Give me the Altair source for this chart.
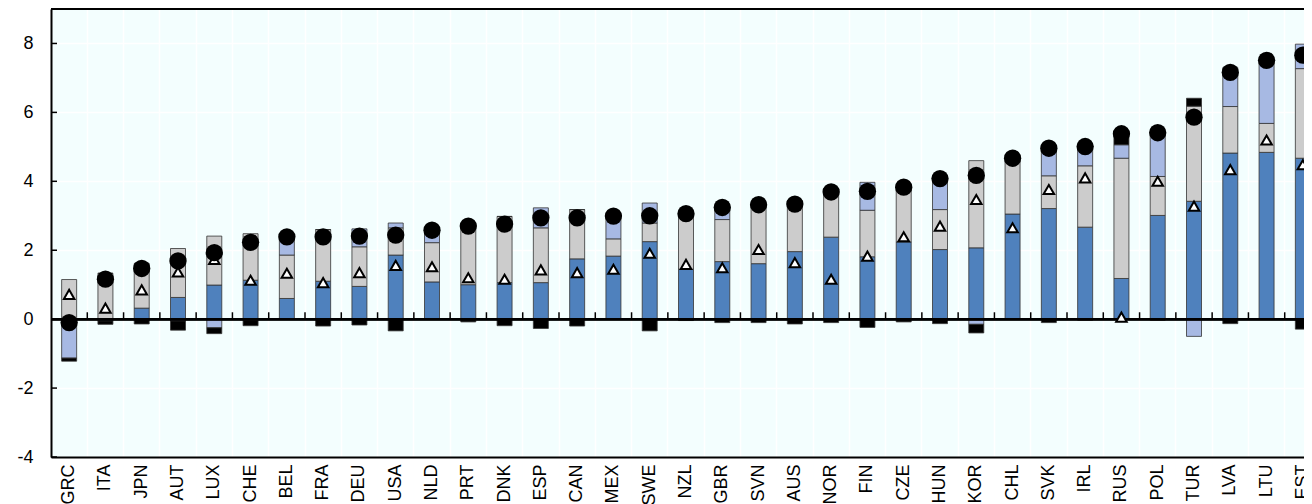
import altair as alt
import pandas as pd

countries = ["GRC", "ITA", "JPN", "AUT", "LUX", "CHE", "BEL", "FRA", "DEU", "USA",
             "NLD", "PRT", "DNK", "ESP", "CAN", "MEX", "SWE", "NZL", "GBR", "SVN",
             "AUS", "NOR", "FIN", "CZE", "HUN", "KOR", "CHL", "SVK", "IRL", "RUS",
             "POL", "TUR", "LVA", "LTU", "EST"]

dark_blue = [0.00, -0.05, 0.32, 0.63, 0.99, 1.13, 0.60, 1.10, 0.95, 1.86,
             1.08, 1.00, 1.06, 1.06, 1.75, 1.83, 2.25, 1.45, 1.67, 1.61,
             1.96, 2.38, 1.81, 2.24, 2.02, 2.07, 3.05, 3.21, 2.67, 1.18,
             3.01, 3.42, 4.82, 4.84, 4.67]
grey = [1.15, 1.33, 1.29, 1.42, 1.42, 1.35, 1.26, 1.50, 1.15, 0.79,
        1.14, 1.75, 1.92, 1.59, 1.43, 0.50, 0.54, 1.60, 1.22, 1.78,
        1.47, 1.40, 1.35, 1.64, 1.16, 2.53, 1.63, 0.95, 1.78, 3.49,
        1.13, 2.76, 1.35, 0.84, 2.60]
light_blue = [-1.13, 0.00, 0.00, -0.05, -0.25, -0.04, 0.53, 0.00, 0.52, 0.14,
              0.36, 0.00, 0.00, 0.58, 0.00, 0.70, 0.58, 0.00, 0.40, 0.00,
              0.00, 0.00, 0.81, 0.00, 0.98, -0.15, 0.00, 0.86, 0.58, 0.39,
              1.30, -0.50, 1.13, 1.83, 0.71]
black = [-0.09, -0.10, -0.14, -0.27, -0.17, -0.15, 0.00, -0.20, -0.17, -0.34,
         0.00, -0.08, -0.19, -0.27, -0.20, 0.00, -0.34, -0.04, -0.10, -0.10,
         -0.14, -0.10, -0.24, -0.08, -0.13, -0.25, 0.00, -0.10, -0.03, 0.34,
         -0.03, 0.23, -0.13, 0.00, -0.29]
total = [-0.10, 1.16, 1.47, 1.69, 1.93, 2.23, 2.39, 2.39, 2.41, 2.44,
         2.58, 2.70, 2.76, 2.94, 2.94, 2.99, 3.00, 3.06, 3.24, 3.32,
         3.34, 3.69, 3.71, 3.83, 4.08, 4.17, 4.67, 4.96, 5.01, 5.38,
         5.41, 5.86, 7.16, 7.51, 7.66]
triangle = [0.72, 0.32, 0.85, 1.37, 1.73, 1.13, 1.33, 1.06, 1.35, 1.56,
            1.52, 1.20, 1.16, 1.43, 1.35, 1.45, 1.91, 1.59, 1.49, 2.02,
            1.64, 1.16, 1.83, 2.39, 2.70, 3.47, 2.65, 3.76, 4.10, 0.06,
            4.00, 3.28, 4.34, 5.20, 4.48]

y_ticks = [-4, -2, 0, 2, 4, 6, 8]
y_top = 9
components = ["Dark blue", "Grey", "Light blue", "Black"]
comp_colors = ["#4F81BD", "#CCCCCC", "#A7B9E3", "#000000"]

rows = []
for i, c in enumerate(countries):
    for j, vals in enumerate([dark_blue, grey, light_blue, black]):
        rows.append({"country": c, "comp": components[j], "ord": j, "value": vals[i]})
bars_df = pd.DataFrame(rows)
pts_df = pd.DataFrame({"country": countries, "total": total, "triangle": triangle})
yt_df = pd.DataFrame({"v": y_ticks})

FONT = "Liberation Sans"
FS = 18

x_axis = alt.Axis(title=None, labelAngle=-90, labelFontSize=FS, labelFont=FONT,
                  labelColor="black", ticks=False, domain=True, domainColor="black",
                  domainWidth=2, grid=True, gridColor="white", gridWidth=1.5,
                  bandPosition=0, labelPadding=7, labelAlign="right",
                  labelBaseline="middle", labelOverlap=False)
x_enc = alt.X("country:N", sort=countries,
              scale=alt.Scale(paddingInner=0, paddingOuter=0, range=[0, 1270]),
              axis=x_axis)

y_scale = alt.Scale(domain=[-4, y_top], nice=False, zero=False)
y_axis = alt.Axis(title=None, values=y_ticks, labelFontSize=FS, labelFont=FONT,
                  labelColor="black", ticks=False, domain=True, domainColor="black",
                  domainWidth=2, grid=True, gridColor="white", gridWidth=1.5,
                  labelPadding=18, labelExpr="'' + datum.value")

bars = alt.Chart(bars_df).mark_bar(size=15, stroke="#333333", strokeWidth=0.8,
                                   clip=True).encode(
    x=x_enc,
    y=alt.Y("value:Q", scale=y_scale, axis=y_axis, stack="zero"),
    color=alt.Color("comp:N", scale=alt.Scale(domain=components, range=comp_colors), legend=None),
    order=alt.Order("ord:Q", sort="ascending"),
)

zero_line = alt.Chart(yt_df).mark_rule(color="black", strokeWidth=2).encode(
    y=alt.datum(0)
)
top_line = alt.Chart(yt_df).mark_rule(color="black", strokeWidth=2).encode(
    y=alt.datum(y_top)
)

x_ticks = alt.Chart(pts_df).mark_rule(color="black", strokeWidth=1.5, clip=True).encode(
    x=alt.X("country:N", sort=countries, bandPosition=0),
    y=alt.datum(0),
    y2=alt.datum(0.2),
)

y_tick_marks = alt.Chart(yt_df).mark_rule(color="black", strokeWidth=1.5).encode(
    x=alt.value(0), x2=alt.value(6), y=alt.Y("v:Q")
)

tri = alt.Chart(pts_df).mark_point(shape="triangle-up", filled=True, fill="white",
                                   stroke="black", strokeWidth=2, size=110,
                                   opacity=1, clip=True).encode(
    x=alt.X("country:N", sort=countries), y=alt.Y("triangle:Q")
)

circ = alt.Chart(pts_df).mark_circle(size=300, color="black", opacity=1,
                                     clip=True).encode(
    x=alt.X("country:N", sort=countries), y=alt.Y("total:Q")
)

chart = alt.layer(bars, zero_line, top_line, x_ticks, y_tick_marks, tri, circ).properties(
    width=1253, height=448,
    autosize=alt.AutoSizeParams(type="none"),
    padding={"left": 43, "top": 1, "right": 0, "bottom": 47},
).configure_view(
    fill="#F3FEFE", stroke=None
)

chart.save("out.html", embed_options={"renderer": "svg", "actions": False})
